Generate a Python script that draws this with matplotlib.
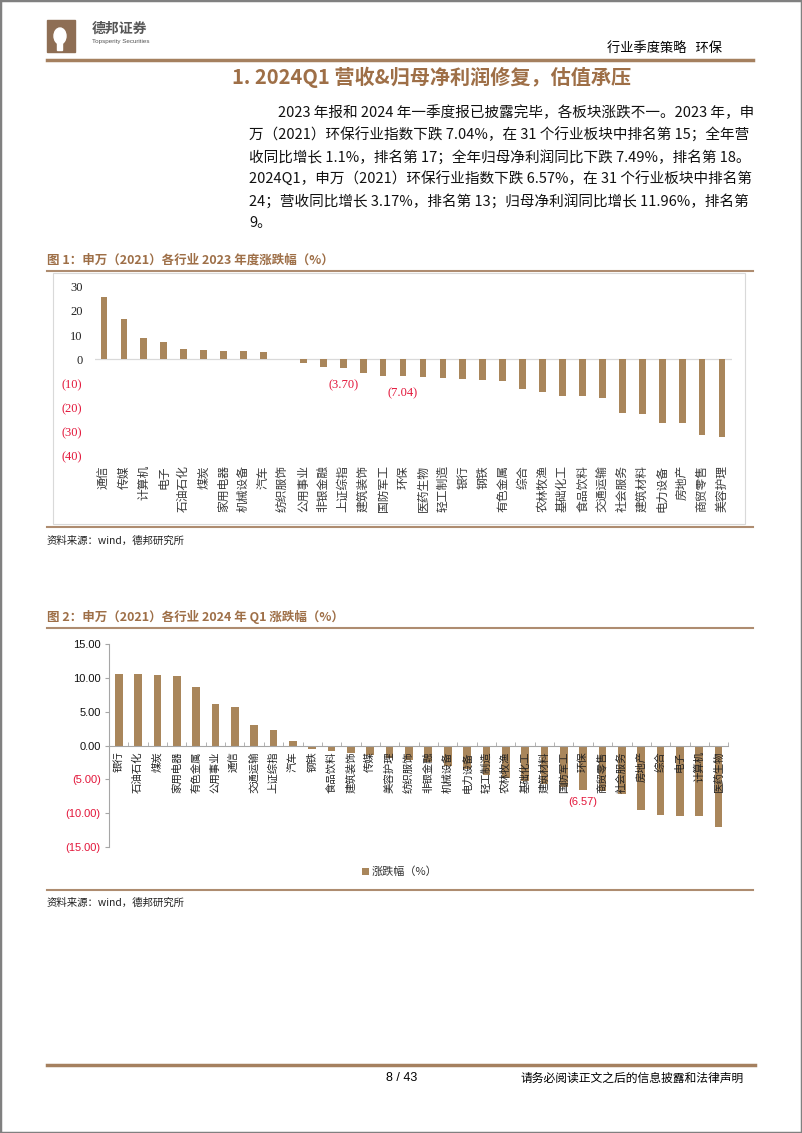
import matplotlib.pyplot as plt
import matplotlib.patches as mpatches
from matplotlib.lines import Line2D
import numpy as np

plt.rcParams['font.family'] = ['Noto Sans CJK SC', 'DejaVu Sans']

# 图1：申万（2021）各行业 2023 年度涨跌幅（%）
inds_2023 = ['通信', '传媒', '计算机', '电子', '石油石化', '煤炭', '家用电器', '机械设备',
             '汽车', '纺织服饰', '公用事业', '非银金融', '上证综指', '建筑装饰', '国防军工',
             '环保', '医药生物', '轻工制造', '银行', '钢铁', '有色金属', '综合', '农林牧渔',
             '基础化工', '食品饮料', '交通运输', '社会服务', '建筑材料', '电力设备', '房地产',
             '商贸零售', '美容护理']
chg_2023 = [25.6, 16.5, 8.7, 7.1, 4.1, 4.0, 3.6, 3.3, 3.2, 0.3, -1.4, -3.0, -3.70, -5.6,
            -6.9, -7.04, -7.2, -7.6, -8.2, -8.5, -9.0, -12.3, -13.4, -15.0, -15.2, -15.8,
            -22.1, -22.8, -26.2, -26.5, -31.3, -32.1]
marked_2023 = {'上证综指': '(3.70)', '环保': '(7.04)'}

# 图2：申万（2021）各行业 2024 年 Q1 涨跌幅（%）
inds_q1 = ['银行', '石油石化', '煤炭', '家用电器', '有色金属', '公用事业', '通信', '交通运输',
           '上证综指', '汽车', '钢铁', '食品饮料', '建筑装饰', '传媒', '美容护理', '纺织服饰',
           '非银金融', '机械设备', '电力设备', '轻工制造', '农林牧渔', '基础化工', '建筑材料',
           '国防军工', '环保', '商贸零售', '社会服务', '房地产', '综合', '电子', '计算机',
           '医药生物']
chg_q1 = [10.62, 10.6, 10.47, 10.28, 8.6, 6.22, 5.73, 3.07, 2.28, 0.65, -0.47, -0.79, -1.04,
          -1.38, -1.78, -2.12, -2.47, -3.0, -3.5, -4.3, -4.8, -5.2, -5.7, -6.2, -6.57, -6.8,
          -7.2, -9.5, -10.27, -10.42, -10.45, -12.05]
marked_q1 = {'环保': '(6.57)'}

body_lines = [
    '2023 年报和 2024 年一季度报已披露完毕，各板块涨跌不一。2023 年，申',
    '万（2021）环保行业指数下跌 7.04%，在 31 个行业板块中排名第 15；全年营',
    '收同比增长 1.1%，排名第 17；全年归母净利润同比下跌 7.49%，排名第 18。',
    '2024Q1，申万（2021）环保行业指数下跌 6.57%，在 31 个行业板块中排名第',
    '24；营收同比增长 3.17%，排名第 13；归母净利润同比增长 11.96%，排名第',
    '9。',
]

W, H = 802, 1133
bar_c = '#A9865B'
brown = '#9E6F47'
line_c = '#AE8C70'
red = '#E3163A'

fig = plt.figure(figsize=(W / 100, H / 100), dpi=100)


def fx(x):
    return x / W


def fy(y):
    return 1 - y / H


def hline(y, x0=47, x1=753, lw=1.5, color=line_c):
    fig.add_artist(Line2D([fx(x0), fx(x1)], [fy(y), fy(y)], lw=lw, color=color))


# page frame
fig.add_artist(mpatches.Rectangle((0, 0), 1, 1, transform=fig.transFigure, fill=False,
                                  edgecolor='#808080', lw=2.5))

# header
fig.add_artist(mpatches.Rectangle((fx(47), fy(52)), fx(28), 32 / H, color='#8E6E54'))
fig.add_artist(mpatches.Ellipse((fx(60), fy(36)), 12 / W, 16 / H, color='white'))
fig.add_artist(mpatches.Rectangle((fx(57), fy(50)), 5 / W, 10 / H, color='white'))
fig.text(fx(92), fy(29), '德邦证券', fontsize=10, fontweight='bold', color='#555555', va='center')
fig.text(fx(92), fy(41), 'Topsperity Securities', fontsize=4.5, color='#555555', va='center',
         family='Liberation Sans')
fig.text(fx(722), fy(48), '行业季度策略   环保', fontsize=9.5, ha='right', va='center')
hline(60, lw=2.5, color='#A5805F')
fig.text(fx(432), fy(77), '1. 2024Q1 营收&归母净利润修复，估值承压', fontsize=14.5,
         fontweight='bold', color=brown, ha='center', va='center')

# body text
for i, s in enumerate(body_lines):
    x0 = 278 if i == 0 else 249
    fig.text(fx(x0), fy(113 + i * 22), s, fontsize=10.5, va='center', color='#111111')

# ---------- chart 1 ----------
fig.text(fx(47), fy(260), '图 1：申万（2021）各行业 2023 年度涨跌幅（%）', fontsize=9,
         fontweight='bold', color=brown, va='center')
hline(271)
fig.add_artist(mpatches.Rectangle((fx(53), fy(524)), fx(692), (524 - 273) / H, fill=False,
                                  edgecolor='#D9D9D9', lw=0.8))
hline(527)
fig.text(fx(47), fy(541), '资料来源：wind，德邦研究所', fontsize=7.5, va='center', color='#222222')

ax1 = fig.add_axes([fx(95), fy(456.1), 637 / W, (456.1 - 286.7) / H])
x1 = np.arange(len(inds_2023))
ax1.bar(x1, chg_2023, width=0.34, color=bar_c, zorder=2)
ax1.axhline(0, color='#D9D9D9', lw=0.9, zorder=1)
ax1.set_xlim(-0.45, 31.5)
ax1.set_ylim(-40, 30)
for sp in ax1.spines.values():
    sp.set_visible(False)
yt = np.arange(-40, 31, 10)
ax1.set_yticks(yt, [f'({-v})' if v < 0 else str(v) for v in yt], family='Liberation Serif',
               fontsize=9)
for t, v in zip(ax1.get_yticklabels(), yt):
    t.set_color(red if v < 0 else '#222222')
ax1.set_xticks(x1, inds_2023, rotation=90, fontsize=8.5, color='#3a3a3a')
ax1.tick_params(axis='y', length=0, pad=9)
ax1.tick_params(axis='x', length=0, pad=6.5)
for name, lab in marked_2023.items():
    i = inds_2023.index(name)
    ax1.annotate(lab, (i, chg_2023[i]), xytext=(0, -12.5), textcoords='offset points',
                 ha='center', va='center', color=red, fontsize=9, family='Liberation Serif')

# ---------- chart 2 ----------
fig.text(fx(47), fy(617), '图 2：申万（2021）各行业 2024 年 Q1 涨跌幅（%）', fontsize=9,
         fontweight='bold', color=brown, va='center')
hline(628.3)
hline(890)
fig.text(fx(47), fy(903), '资料来源：wind，德邦研究所', fontsize=7.5, va='center', color='#222222')

ax2 = fig.add_axes([fx(109), fy(846.7), 619.3 / W, (846.7 - 644.3) / H])
x2 = np.arange(len(inds_q1))
ax2.bar(x2, chg_q1, width=0.4, color=bar_c, zorder=1, label='涨跌幅（%）')
ax2.set_xlim(-0.5, 31.5)
ax2.set_ylim(-15, 15)
ax2.spines[['top', 'right']].set_visible(False)
ax2.spines['left'].set_color('#A6A6A6')
ax2.spines['bottom'].set_color('#A6A6A6')
ax2.spines['bottom'].set_position(('data', 0))
yt2 = np.arange(-15, 16, 5)
ax2.set_yticks(yt2, [f'({-v:.2f})' if v < 0 else f'{v:.2f}' for v in yt2],
               family='Liberation Sans', fontsize=8)
for t, v in zip(ax2.get_yticklabels(), yt2):
    t.set_color(red if v < 0 else '#111111')
ax2.tick_params(axis='y', length=3, color='#A6A6A6', pad=3)
ax2.set_xticks(x2, inds_q1, rotation=90, fontsize=7.5, color='#222222')
ax2.set_xticks(np.arange(-0.5, 32, 1), minor=True)
ax2.tick_params(axis='x', which='major', length=0, pad=4)
ax2.tick_params(axis='x', which='minor', direction='in', length=3, color='#A6A6A6')
for name, lab in marked_q1.items():
    i = inds_q1.index(name)
    ax2.annotate(lab, (i, chg_q1[i]), xytext=(0, -9), textcoords='offset points',
                 ha='center', va='center', color=red, fontsize=8, family='Liberation Sans')
ax2.legend(loc='center', bbox_to_anchor=(fx(400), fy(872)), bbox_transform=fig.transFigure,
           frameon=False, fontsize=8, handlelength=0.6, handleheight=0.6, handletextpad=0.3,
           labelcolor='#333333')

# footer
hline(1065, x1=755, lw=2.5, color='#A5805F')
fig.text(fx(401.5), fy(1078), '8 / 43', fontsize=9, ha='center', va='center',
         family='Liberation Sans')
fig.text(fx(744), fy(1078), '请务必阅读正文之后的信息披露和法律声明', fontsize=8.5,
         ha='right', va='center')

fig.savefig('out.png', dpi=100)
